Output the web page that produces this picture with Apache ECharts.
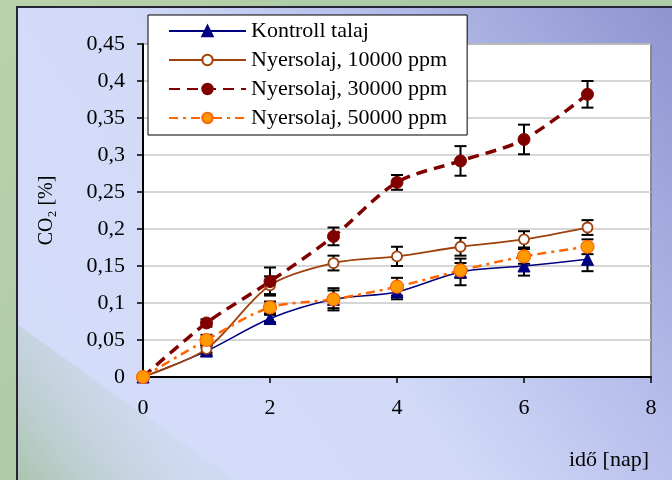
<!DOCTYPE html>
<html>
<head>
<meta charset="utf-8">
<script src="https://cdn.jsdelivr.net/npm/echarts@6/dist/echarts.min.js"></script>
<style>
html,body{margin:0;padding:0;}
#c{width:672px;height:480px;}
</style>
</head>
<body>
<div id="c"></div>
<script>
var days = [0, 1, 2, 3, 4, 5, 6, 7];
var seriesNames = ['Kontroll talaj', 'Nyersolaj, 10000 ppm', 'Nyersolaj, 30000 ppm', 'Nyersolaj, 50000 ppm'];
var kontroll = [0, 0.035, 0.079, 0.105, 0.115, 0.142, 0.150, 0.159];
var kontrollErr = [0.002, 0.005, 0.005, 0.015, 0.010, 0.018, 0.013, 0.016];
var ny10000 = [0, 0.038, 0.124, 0.154, 0.163, 0.176, 0.186, 0.202];
var ny10000Err = [0.002, 0.005, 0.012, 0.010, 0.013, 0.012, 0.011, 0.010];
var ny30000 = [0, 0.073, 0.129, 0.190, 0.263, 0.292, 0.321, 0.382];
var ny30000Err = [0.002, 0.005, 0.019, 0.012, 0.010, 0.020, 0.020, 0.018];
var ny50000 = [0, 0.050, 0.094, 0.105, 0.122, 0.144, 0.163, 0.176];
var ny50000Err = [0.002, 0.007, 0.008, 0.012, 0.012, 0.010, 0.010, 0.010];
var xTickLabels = ['0', '2', '4', '6', '8'];
var yTickLabels = ['0', '0,05', '0,1', '0,15', '0,2', '0,25', '0,3', '0,35', '0,4', '0,45'];

var FONT = '"Liberation Serif", "Times New Roman", serif';

function pts(vals) { return days.map(function (d, i) { return [d, vals[i]]; }); }
function errPts(vals, errs) { return days.map(function (d, i) { return [d, vals[i] - errs[i], vals[i] + errs[i]]; }); }

function errSeries(vals, errs) {
  return {
    type: 'custom',
    silent: true,
    z: 1,
    data: errPts(vals, errs),
    renderItem: function (params, api) {
      var x = api.value(0);
      var lo = api.coord([x, api.value(1)]);
      var hi = api.coord([x, api.value(2)]);
      var hw = 6;
      var st = { stroke: '#000', lineWidth: 2 };
      return {
        type: 'group',
        children: [
          { type: 'line', shape: { x1: lo[0], y1: lo[1], x2: hi[0], y2: hi[1] }, style: st },
          { type: 'line', shape: { x1: lo[0] - hw, y1: lo[1], x2: lo[0] + hw, y2: lo[1] }, style: st },
          { type: 'line', shape: { x1: hi[0] - hw, y1: hi[1], x2: hi[0] + hw, y2: hi[1] }, style: st }
        ]
      };
    }
  };
}

var chart = echarts.init(document.getElementById('c'), null, { renderer: 'canvas' });
chart.setOption({
  animation: false,
  textStyle: { fontFamily: FONT },
  graphic: [
    { type: 'rect', z: -10, shape: { x: 0, y: 0, width: 672, height: 480 },
      style: { fill: new echarts.graphic.LinearGradient(0, 0, 1, 1, [
        { offset: 0, color: '#b9d2ac' }, { offset: 0.5, color: '#aac8a4' }, { offset: 1, color: '#b4d0aa' }]) } },
    { type: 'rect', z: -9, shape: { x: 17, y: 7, width: 660, height: 480 },
      style: { fill: new echarts.graphic.LinearGradient(1, 0, 0, 1, [
        { offset: 0, color: '#8c93cf' }, { offset: 0.3, color: '#b4bcea' }, { offset: 0.55, color: '#d2daf8' }, { offset: 1, color: '#d4ddf8' }]),
        stroke: '#252535', lineWidth: 2 } },
    { type: 'polygon', z: -8, shape: { points: [[18, 325], [18, 480], [235, 480]] },
      style: { fill: new echarts.graphic.LinearGradient(0, 1, 0.6, 0.4, [
        { offset: 0, color: 'rgba(172,196,176,1)' }, { offset: 1, color: 'rgba(200,214,230,0.3)' }]) } }
  ],
  grid: { left: 143, top: 44, width: 508, height: 333, show: true, backgroundColor: '#ffffff', borderColor: '#8a8a8a', borderWidth: 2 },
  legend: {
    data: seriesNames,
    orient: 'vertical',
    left: 148, top: 15,
    backgroundColor: '#ffffff',
    borderColor: '#000000',
    borderWidth: 1,
    borderRadius: 0,
    padding: [5, 20, 6, 20],
    itemWidth: 77,
    itemHeight: 13,
    itemGap: 7,
    textStyle: { fontFamily: FONT, fontSize: 22, color: '#000', padding: [0, 0, 0, 0], lineHeight: 20 }
  },
  xAxis: {
    type: 'value', min: 0, max: 8, interval: 2,
    axisLine: { show: true, onZero: false, lineStyle: { color: '#000', width: 2 } },
    axisTick: { show: true, inside: false, length: 6, lineStyle: { color: '#000', width: 1.5 } },
    axisLabel: { margin: 20, color: '#000', fontFamily: FONT, fontSize: 22,
      formatter: function (v) { return xTickLabels[Math.round(v / 2)]; } },
    splitLine: { show: false },
    name: 'idő [nap]', nameLocation: 'end',
    nameTextStyle: { fontFamily: FONT, fontSize: 22, color: '#000', align: 'right', verticalAlign: 'top', padding: [72, 0, 0, 0] },
    nameGap: -2
  },
  yAxis: {
    type: 'value', min: 0, max: 0.45, interval: 0.05,
    axisLine: { show: true, lineStyle: { color: '#000', width: 2 } },
    axisTick: { show: true, inside: false, length: 6, lineStyle: { color: '#000', width: 1.5 } },
    axisLabel: { margin: 18, color: '#000', fontFamily: FONT, fontSize: 22,
      formatter: function (v) { return yTickLabels[Math.round(v / 0.05)]; } },
    splitLine: { show: true, lineStyle: { color: '#c8c8c8', width: 1.5 } },
    name: 'CO₂ [%]', nameLocation: 'middle', nameGap: 86,
    nameTextStyle: { fontFamily: FONT, fontSize: 20, color: '#000' }
  },
  series: [
    errSeries(kontroll, kontrollErr),
    errSeries(ny10000, ny10000Err),
    errSeries(ny30000, ny30000Err),
    errSeries(ny50000, ny50000Err),
    { name: seriesNames[0], type: 'line', smooth: 0.3, z: 3, data: pts(kontroll),
      symbol: 'triangle', symbolSize: 12,
      lineStyle: { color: '#000080', width: 1.5 },
      itemStyle: { color: '#000080', borderColor: '#000080', borderWidth: 1 } },
    { name: seriesNames[1], type: 'line', smooth: 0.3, z: 3, data: pts(ny10000),
      symbol: 'circle', symbolSize: 10,
      lineStyle: { color: '#a0400a', width: 1.8 },
      itemStyle: { color: '#ffffff', borderColor: '#a0400a', borderWidth: 1.8 } },
    { name: seriesNames[2], type: 'line', smooth: 0.3, z: 3, data: pts(ny30000),
      symbol: 'circle', symbolSize: 12,
      lineStyle: { color: '#800000', width: 3.5, type: [11, 7] },
      itemStyle: { color: '#800000', borderColor: '#800000', borderWidth: 1 } },
    { name: seriesNames[3], type: 'line', smooth: 0.3, z: 3, data: pts(ny50000),
      symbol: 'circle', symbolSize: 13,
      lineStyle: { color: '#ff6600', width: 2.5, type: [9, 5, 3, 5] },
      itemStyle: { color: '#ff9900', borderColor: '#ff6600', borderWidth: 1.2 } }
  ]
});
</script>
</body>
</html>
